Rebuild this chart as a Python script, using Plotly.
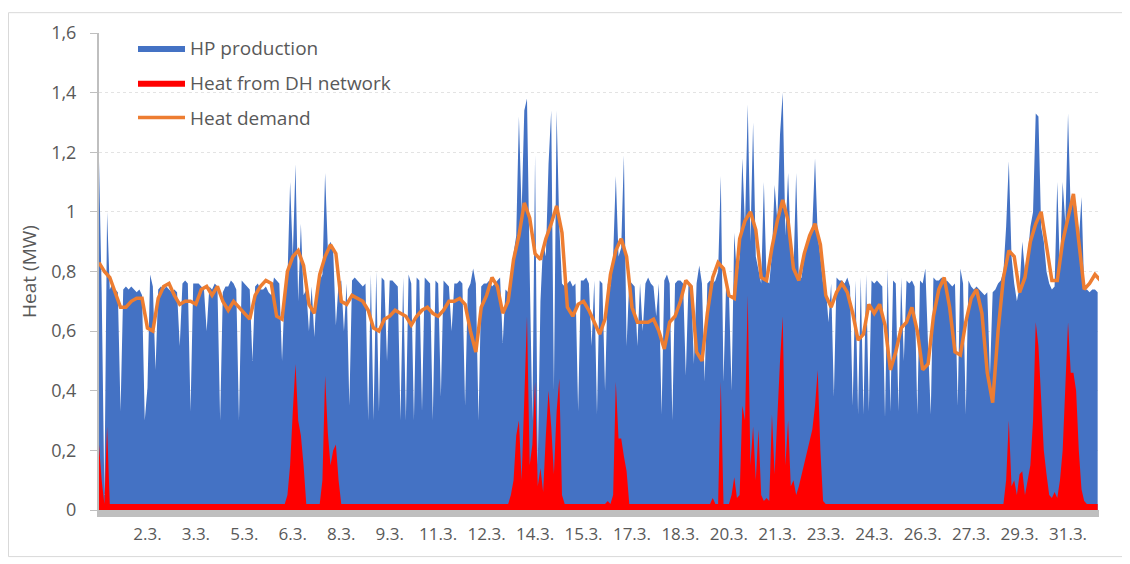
import plotly.graph_objects as go

# ---------------- data ----------------
tick_labels = ["2.3.", "3.3.", "5.3.", "6.3.", "8.3.", "9.3.", "11.3.", "12.3.", "14.3.", "15.3.",
               "17.3.", "18.3.", "20.3.", "21.3.", "23.3.", "24.3.", "26.3.", "27.3.", "29.3.", "31.3."]
tick_hours = [36, 72, 108, 144, 180, 216, 252, 288, 324, 360,
              396, 432, 468, 504, 540, 576, 612, 648, 684, 720]

# hours of March (0 = 1.3. 00:00), 2-hour samples for production series
hours_2h = list(range(0, 744, 2))
# 4-hour samples for the demand curve
hours_4h = list(range(0, 748, 4))

hp_production = [
    1.17, .73, .05, 1.0, .74, .76, .74, .73, .33, .74, .75, .74,      # 1.3.
    .75, .74, .73, .74, .72, .30, .41, .79, .75, .47, .74, .75,       # 2.3.
    .74, .75, .74, .73, .74, .73, .55, .76, .77, .76, .33, .76,       # 3.3.
    .76, .76, .75, .74, .60, .75, .74, .76, .75, .30, .73, .75,       # 4.3.
    .75, .77, .76, .74, .30, .77, .76, .75, .74, .50, .75, .76,       # 5.3.
    .74, .74, .75, .73, .72, .78, .77, .76, .50, .74, .77, 1.10,      # 6.3.
    .85, 1.16, .70, .96, .72, .74, .60, .75, .58, .76, .77, .79,      # 7.3.
    1.13, .88, .90, .87, .62, .76, .77, .60, .76, .35, .77, .78,      # 8.3.
    .77, .76, .75, .76, .30, .79, .30, .80, .33, .78, .77, .50,       # 9.3.
    .77, .77, .76, .75, .30, .78, .30, .79, .76, .30, .78, .77,       # 10.3.
    .33, .78, .77, .76, .30, .77, .76, .38, .77, .76, .75, .60,       # 11.3.
    .76, .76, .77, .76, .35, .74, .76, .81, .76, .30, .75, .76,       # 12.3.
    .76, .77, .75, .76, .77, .78, .56, .74, .73, .74, .86, .92,       # 13.3.
    1.32, 1.0, 1.34, 1.38, .80, .30, 1.19, .15, .70, .90, .85, 1.16,  # 14.3.
    1.34, .40, 1.34, .95, .76, .75, .76, .77, .75, .76, .33, .77,     # 15.3.
    .77, .78, .76, .55, .77, .32, .77, .76, .40, .76, .75, .85,       # 16.3.
    1.12, .85, .88, 1.19, .55, .77, .76, .75, .55, .76, .60, .76,     # 17.3.
    .78, .76, .75, .65, .76, .32, .77, .79, .76, .30, .76, .77,       # 18.3.
    .77, .76, .45, .76, .75, .49, .76, .82, .76, .43, .76, .77,       # 19.3.
    .76, .77, .80, 1.12, .43, .77, .74, .40, .93, .78, .85, 1.18,     # 20.3.
    .95, 1.36, .90, 1.30, .85, .80, .76, 1.10, .77, .76, .86, 1.09,   # 21.3.
    .97, 1.26, 1.40, .92, 1.13, .88, .80, 1.13, .77, .78, .85, .89,   # 22.3.
    .92, .95, 1.18, .92, .85, .76, .75, .63, .76, .38, .78, .77,      # 23.3.
    .77, .76, .78, .75, .35, .77, .32, .78, .32, .79, .33, .77,       # 24.3.
    .76, .77, .76, .75, .31, .81, .33, .77, .76, .33, .78, .50,       # 25.3.
    .77, .76, .77, .75, .32, .77, .76, .81, .55, .32, .78, .77,       # 26.3.
    .77, .78, .76, .77, .76, .75, .76, .35, .81, .76, .32, .77,       # 27.3.
    .75, .74, .75, .74, .73, .72, .73, .45, .73, .74, .76, .77,       # 28.3.
    .80, .95, 1.17, .85, .76, .70, .75, .90, .80, .85, .95, 1.0,      # 29.3.
    1.33, 1.32, .95, .90, .80, .76, .74, .75, 1.10, .80, 1.10, .96,   # 30.3.
    1.33, 1.00, 1.05, 1.02, .90, 1.05, .74, .74, .73, .74, .74, .73,  # 31.3.
]

dh_heat = [
    .22, .10, .02, .28, .02, .02, .02, .02, .02, .02, .02, .02,       # 1.3.
    .02, .02, .02, .02, .02, .02, .02, .02, .02, .02, .02, .02,       # 2.3.
    .02, .02, .02, .02, .02, .02, .02, .02, .02, .02, .02, .02,       # 3.3.
    .02, .02, .02, .02, .02, .02, .02, .02, .02, .02, .02, .02,       # 4.3.
    .02, .02, .02, .02, .02, .02, .02, .02, .02, .02, .02, .02,       # 5.3.
    .02, .02, .02, .02, .02, .02, .02, .02, .02, .02, .05, .15,       # 6.3.
    .33, .49, .30, .25, .15, .02, .02, .02, .02, .02, .02, .10,       # 7.3.
    .45, .26, .15, .20, .22, .10, .02, .02, .02, .02, .02, .02,       # 8.3.
    .02, .02, .02, .02, .02, .02, .02, .02, .02, .02, .02, .02,       # 9.3.
    .02, .02, .02, .02, .02, .02, .02, .02, .02, .02, .02, .02,       # 10.3.
    .02, .02, .02, .02, .02, .02, .02, .02, .02, .02, .02, .02,       # 11.3.
    .02, .02, .02, .02, .02, .02, .02, .02, .02, .02, .02, .02,       # 12.3.
    .02, .02, .02, .02, .02, .02, .02, .02, .02, .05, .10, .25,       # 13.3.
    .30, .10, .35, .65, .15, .22, .43, .08, .14, .06, .25, .40,       # 14.3.
    .28, .12, .33, .44, .05, .02, .02, .02, .02, .02, .02, .02,       # 15.3.
    .02, .02, .02, .02, .02, .02, .02, .02, .02, .03, .02, .05,       # 16.3.
    .43, .24, .24, .18, .13, .02, .02, .02, .02, .02, .02, .02,       # 17.3.
    .02, .02, .02, .02, .02, .02, .02, .02, .02, .02, .02, .02,       # 18.3.
    .02, .02, .02, .02, .02, .02, .02, .02, .02, .02, .02, .02,       # 19.3.
    .04, .02, .02, .43, .02, .02, .02, .05, .11, .04, .05, .35,       # 20.3.
    .30, .72, .15, .28, .10, .27, .05, .03, .04, .03, .32, .12,       # 21.3.
    .32, .50, .65, .15, .30, .08, .10, .05, .08, .12, .16, .20,       # 22.3.
    .24, .27, .35, .47, .20, .03, .02, .02, .02, .02, .02, .02,       # 23.3.
    .02, .02, .02, .02, .02, .02, .02, .02, .02, .02, .02, .02,       # 24.3.
    .02, .02, .02, .02, .02, .02, .02, .02, .02, .02, .02, .02,       # 25.3.
    .02, .02, .02, .02, .02, .02, .02, .02, .02, .02, .02, .02,       # 26.3.
    .02, .02, .02, .02, .02, .02, .02, .02, .02, .02, .02, .02,       # 27.3.
    .02, .02, .02, .02, .02, .02, .02, .02, .02, .02, .02, .02,       # 28.3.
    .02, .10, .30, .08, .10, .05, .12, .13, .05, .10, .15, .30,       # 29.3.
    .63, .55, .39, .20, .12, .05, .04, .06, .04, .10, .20, .40,       # 30.3.
    .63, .46, .46, .40, .20, .07, .03, .02, .02, .02, .02, .02,       # 31.3.
]

heat_demand = [
    .83, .80, .78, .73, .68, .68, .70, .71, .71, .61,
    .60, .71, .75, .76, .72, .69, .70, .70, .69, .74,
    .75, .72, .75, .70, .67, .70, .68, .66, .64, .72,
    .75, .77, .76, .65, .64, .80, .85, .87, .82, .69,
    .66, .79, .85, .89, .86, .70, .69, .72, .71, .70,
    .67, .61, .60, .64, .65, .67, .66, .65, .62, .65,
    .67, .68, .66, .65, .67, .70, .70, .71, .69, .60,
    .53, .68, .72, .78, .75, .66, .70, .84, .92, 1.03,
    .98, .86, .84, .91, .96, 1.02, .93, .68, .65, .69,
    .70, .67, .63, .59, .64, .79, .87, .91, .85, .68,
    .63, .63, .63, .64, .60, .54, .63, .65, .70, .77,
    .75, .53, .50, .66, .78, .83, .81, .72, .71, .91,
    .97, 1.00, .94, .78, .77, .88, .97, 1.04, .97, .81,
    .77, .86, .92, .96, .89, .72, .68, .73, .76, .73,
    .66, .57, .59, .69, .66, .69, .62, .47, .53, .61,
    .63, .68, .60, .47, .49, .65, .74, .78, .68, .53,
    .52, .63, .71, .74, .66, .46, .36, .60, .78, .87,
    .85, .73, .78, .90, .96, 1.00, .88, .77, .77, .90,
    .98, 1.06, .90, .74, .76, .79, .77,
]

# ---------------- figure ----------------
BLUE = "#4472C4"
RED = "#FF0000"
ORANGE = "#ED7D31"
TXT = "#595959"
AXIS = "#BFBFBF"

fig = go.Figure()
fig.add_trace(go.Scatter(
    x=hours_2h, y=hp_production, name="HP production", legendgroup="a",
    mode="lines", line=dict(width=0, color=BLUE), fill="tozeroy", fillcolor=BLUE,
))
fig.add_trace(go.Scatter(
    x=hours_2h, y=dh_heat, name="Heat from DH network", legendgroup="b",
    mode="lines", line=dict(width=0, color=RED), fill="tozeroy", fillcolor=RED,
))
fig.add_trace(go.Scatter(
    x=hours_4h, y=heat_demand, name="Heat demand", legendgroup="c",
    mode="lines", line=dict(width=3.5, color=ORANGE),
))

# the page body has an 8px margin, so the figure is 8px smaller on each side
fig.update_layout(
    width=1122, height=556,
    margin=dict(l=91, r=31, t=21, b=54),
    paper_bgcolor="white", plot_bgcolor="white",
    separators=",.",
    font=dict(family="Open Sans", color=TXT),
    showlegend=True,
    legend=dict(
        x=0.034, y=1.008, xanchor="left", yanchor="top",
        font=dict(size=19, color=TXT), bgcolor="rgba(0,0,0,0)",
        traceorder="grouped", tracegroupgap=7, itemwidth=47,
    ),
    xaxis=dict(
        range=[0, 743], tickmode="array", tickvals=tick_hours, ticktext=tick_labels,
        showline=True, linecolor=AXIS, linewidth=7, ticks="",
        showgrid=False, zeroline=False, tickfont=dict(size=17, color=TXT),
        ticklabelstandoff=3,
    ),
    yaxis=dict(
        range=[0, 1.6], tick0=0, dtick=0.2,
        showline=True, linecolor=AXIS, linewidth=2,
        ticks="outside", ticklen=7, tickcolor=AXIS,
        showgrid=True, gridcolor="#E3E3E3", griddash="dot", gridwidth=1,
        zeroline=False, tickfont=dict(size=18, color=TXT),
        ticklabelstandoff=10,
        title=dict(text="Heat (MW)", font=dict(size=19, color=TXT), standoff=10),
    ),
    shapes=[dict(
        type="rect", xref="paper", yref="paper",
        x0=-0.0905, x1=1.025, y0=-0.0977, y1=1.0426,
        line=dict(color="#D9D9D9", width=1), fillcolor="rgba(0,0,0,0)", layer="below",
    )],
)

fig.write_html("out.html")
